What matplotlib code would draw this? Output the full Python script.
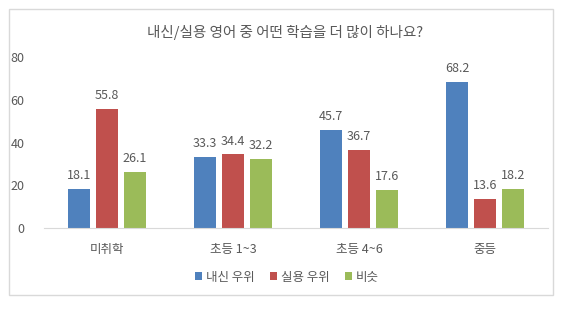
import numpy as np
import matplotlib.pyplot as plt
from matplotlib.patches import Rectangle

plt.rcParams['font.family'] = ['Noto Sans CJK KR', 'DejaVu Sans']

# data
categories = ['미취학', '초등 1~3', '초등 4~6', '중등']
series_names = ['내신 우위', '실용 우위', '비슷']
naesin = [18.1, 33.3, 45.7, 68.2]
silyong = [55.8, 34.4, 36.7, 13.6]
bisut = [26.1, 32.2, 17.6, 18.2]
colors = ['#4F81BD', '#C0504D', '#9BBB59']
txt = '#595959'

fig = plt.figure(figsize=(5.76, 3.10), dpi=100)
fig.patches.append(Rectangle((9 / 576, 1 - 295 / 310), 544 / 576, 286 / 310,
                             transform=fig.transFigure, fill=False,
                             edgecolor='#D9D9D9', linewidth=1))

ax = fig.add_axes([44 / 576, 1 - 228 / 310, 504 / 576, 171 / 310])
x = np.arange(len(categories))
w = 0.175
step = 0.222
for i, (vals, name) in enumerate(zip([naesin, silyong, bisut], series_names)):
    bars = ax.bar(x + (i - 1) * step, vals, w, color=colors[i], label=name)
    for b, v in zip(bars, vals):
        ax.annotate(f'{v:.1f}', (b.get_x() + b.get_width() / 2, v),
                    xytext=(0, 5), textcoords='offset points',
                    ha='center', va='bottom', fontsize=9, color=txt)

ax.set_xlim(-0.5, 3.5)
ax.set_ylim(0, 80)
ax.set_yticks([0, 20, 40, 60, 80])
ax.set_xticks(x)
ax.set_xticklabels(categories)
for s in ['top', 'right', 'left']:
    ax.spines[s].set_visible(False)
ax.spines['bottom'].set_color('#D9D9D9')
ax.tick_params(axis='both', length=0, labelsize=9, labelcolor=txt)
ax.tick_params(axis='y', pad=14)
ax.tick_params(axis='x', pad=11)

fig.text(285 / 576, 1 - 32 / 310, '내신/실용 영어 중 어떤 학습을 더 많이 하나요?',
         ha='center', va='center', fontsize=10.5, color=txt)

fig.legend(loc='center', bbox_to_anchor=(287 / 576, 1 - 277 / 310), ncol=3,
           frameon=False, fontsize=9, labelcolor=txt, handlelength=0.6,
           handleheight=0.6, handletextpad=0.3, columnspacing=1.2)

fig.savefig('out.png', dpi=100)
